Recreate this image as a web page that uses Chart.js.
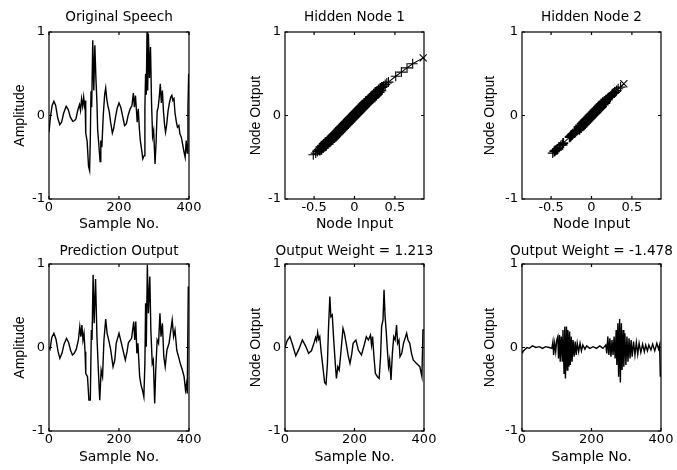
<!DOCTYPE html>
<html>
<head>
<meta charset="utf-8">
<script src="https://cdn.jsdelivr.net/npm/chart.js@4.4.1/dist/chart.umd.min.js"></script>
<style>
  body { margin: 0; background: #fff; width: 677px; height: 470px; position: relative; overflow: hidden; }
  canvas { position: absolute; }
</style>
</head>
<body>
<script>
// speech segment, 400 samples
const speechSamples = [0, 4, 9, 14, 19, 25, 31, 36, 42, 49, 55, 61, 68, 73, 77, 82, 87, 90, 93, 96, 99, 101, 103, 105, 109, 113, 116, 118, 120, 122, 125, 128, 131, 134, 137, 139, 142, 146, 148, 151, 155, 159, 162, 165, 168, 172, 176, 181, 185, 190, 195, 200, 205, 210, 216, 221, 226, 232, 237, 241, 244, 247, 250, 252, 255, 258, 261, 265, 268, 272, 274, 276, 278, 280, 282, 284, 287, 290, 293, 296, 299, 303, 306, 309, 312, 315, 318, 321, 324, 327, 330, 333, 336, 340, 344, 348, 351, 354, 357, 360, 364, 367, 371, 374, 378, 382, 385, 389, 392, 395, 397, 399];
const speechAmp = [-0.20, -0.02, 0.12, 0.17, 0.12, -0.03, -0.11, -0.08, 0.03, 0.11, 0.07, -0.02, -0.07, -0.06, -0.04, 0.06, 0.13, 0.06, 0.20, 0.11, 0.22, 0.13, 0.18, -0.21, -0.31, -0.61, -0.66, -0.28, 0.29, 0.10, 0.90, 0.30, 0.84, 0.45, 0.15, -0.17, -0.33, -0.55, -0.30, -0.38, 0.00, 0.25, 0.33, 0.20, 0.12, 0.05, -0.08, -0.21, -0.15, -0.02, 0.09, 0.15, 0.10, 0.00, -0.12, -0.10, 0.00, 0.08, 0.12, 0.27, 0.10, 0.24, 0.05, -0.08, 0.08, -0.15, -0.30, -0.42, -0.52, -0.48, 0.10, 0.50, 0.25, 1.00, 0.30, 0.98, 0.45, 0.82, 0.15, -0.25, -0.18, -0.58, -0.32, 0.05, 0.10, 0.22, 0.38, 0.15, 0.30, 0.05, -0.10, -0.20, -0.12, 0.05, 0.15, 0.22, 0.24, 0.18, 0.20, 0.03, -0.08, -0.14, -0.12, -0.22, -0.26, -0.35, -0.42, -0.50, -0.30, -0.45, 0.10, 0.50];

// network prediction
const predSamples = [0, 3, 8, 14, 20, 26, 31, 37, 43, 50, 56, 62, 67, 72, 78, 84, 88, 91, 94, 97, 100, 103, 105, 110, 114, 118, 121, 123, 126, 129, 133, 137, 141, 145, 149, 153, 157, 162, 166, 170, 176, 183, 188, 192, 200, 207, 214, 218, 223, 227, 236, 242, 245, 248, 251, 254, 259, 263, 267, 271, 274, 276, 278, 281, 284, 288, 291, 295, 298, 302, 305, 309, 313, 317, 320, 324, 328, 332, 337, 343, 352, 356, 360, 365, 370, 375, 381, 386, 390, 393, 395, 398];
const predAmp = [0.00, -0.02, 0.12, 0.17, 0.10, -0.05, -0.13, -0.07, 0.04, 0.11, 0.06, -0.04, -0.09, -0.07, -0.02, 0.09, 0.25, 0.13, 0.27, 0.09, 0.17, -0.05, -0.31, -0.35, -0.63, -0.63, 0.21, 0.09, 0.87, 0.29, 0.82, 0.13, -0.27, -0.63, -0.27, -0.35, 0.09, 0.34, 0.17, 0.10, -0.02, -0.23, -0.15, 0.05, 0.17, 0.05, -0.08, -0.15, -0.05, 0.06, 0.11, 0.31, 0.09, 0.31, -0.07, 0.05, -0.35, -0.45, -0.51, -0.59, -0.19, 0.53, 0.01, 0.99, 0.41, 0.85, 0.21, -0.19, -0.15, -0.67, -0.27, 0.09, 0.05, 0.41, 0.13, 0.29, -0.11, -0.23, -0.03, 0.05, 0.33, 0.13, 0.21, -0.03, -0.11, -0.19, -0.27, -0.35, -0.51, -0.43, -0.55, 0.73];

// hidden node 1 output over time
const h1Samples = [0, 6, 14, 22, 31, 40, 50, 59, 68, 76, 84, 88, 91, 94, 97, 100, 104, 110, 114, 118, 122, 125, 129, 132, 136, 140, 145, 148, 152, 156, 161, 167, 171, 176, 182, 187, 192, 196, 204, 211, 220, 228, 234, 240, 246, 249, 252, 256, 260, 266, 271, 275, 278, 282, 285, 288, 291, 294, 298, 301, 305, 309, 313, 317, 321, 324, 328, 331, 336, 341, 347, 350, 354, 359, 364, 369, 378, 388, 394, 397, 400];
const h1Out = [0.00, 0.08, 0.13, 0.03, -0.10, -0.02, 0.09, 0.02, -0.07, -0.04, 0.06, 0.12, 0.08, 0.18, 0.10, 0.13, -0.05, -0.27, -0.42, -0.44, -0.20, 0.21, 0.61, 0.37, 0.39, 0.10, -0.21, -0.37, -0.23, -0.27, -0.05, 0.23, 0.17, 0.05, -0.10, -0.19, -0.08, 0.05, 0.09, -0.03, -0.09, 0.03, 0.13, 0.09, 0.15, 0.03, 0.13, -0.11, -0.31, -0.35, -0.37, -0.11, 0.25, 0.33, 0.69, 0.37, 0.21, 0.01, -0.23, -0.15, -0.39, -0.07, 0.13, 0.09, 0.27, 0.05, 0.09, -0.11, -0.07, 0.05, 0.13, 0.17, 0.09, 0.05, -0.07, -0.15, -0.19, -0.23, -0.35, 0.21, 0.21];

// hidden node 2 output over time
const h2Samples = [0, 2, 7, 14, 21, 30, 40, 50, 59, 68, 78, 86, 89, 91, 94, 97, 100, 103, 105, 108, 110, 113, 116, 118, 121, 123, 125, 128, 130, 132, 135, 137, 139, 142, 144, 147, 150, 153, 156, 159, 163, 167, 171, 175, 181, 186, 195, 205, 214, 224, 233, 241, 244, 247, 250, 253, 256, 259, 262, 265, 268, 271, 273, 276, 278, 281, 283, 286, 288, 291, 293, 296, 299, 302, 305, 308, 311, 314, 317, 321, 325, 329, 333, 337, 342, 347, 352, 356, 361, 365, 371, 376, 382, 388, 393, 396, 398];
const h2Out = [-0.06, -0.05, -0.03, 0.00, -0.01, 0.02, 0.00, 0.01, -0.01, 0.01, 0.00, -0.01, 0.07, -0.09, 0.05, -0.05, 0.09, 0.13, -0.13, 0.15, -0.17, 0.13, -0.17, 0.21, -0.31, 0.25, -0.37, 0.25, -0.27, 0.21, -0.23, 0.19, -0.21, 0.13, -0.17, 0.09, -0.11, 0.07, -0.09, 0.05, -0.05, 0.05, -0.04, 0.03, -0.02, 0.02, -0.01, 0.01, -0.01, 0.02, -0.01, 0.03, -0.07, 0.13, -0.09, 0.11, -0.11, 0.09, -0.09, 0.13, -0.13, 0.21, -0.21, 0.29, -0.35, 0.34, -0.42, 0.29, -0.27, 0.21, -0.23, 0.17, -0.21, 0.13, -0.17, 0.11, -0.13, 0.09, -0.11, 0.07, -0.09, 0.06, -0.08, 0.05, -0.06, 0.04, -0.05, 0.03, -0.04, 0.03, -0.03, 0.04, -0.04, 0.05, -0.02, 0.03, -0.35];

// node input vs node output, [input, output]
const node1Pts = [
  [-0.51, -0.47], [-0.48, -0.45], [-0.46, -0.43], [-0.44, -0.41], [-0.43, -0.42], [-0.42, -0.38],
  [-0.41, -0.41], [-0.40, -0.36], [-0.39, -0.39], [-0.38, -0.34], [-0.37, -0.37], [-0.36, -0.32],
  [-0.35, -0.36], [-0.34, -0.31], [-0.33, -0.34], [-0.32, -0.29], [-0.31, -0.32], [-0.30, -0.27],
  [-0.29, -0.30], [-0.28, -0.25], [-0.27, -0.29], [-0.26, -0.23], [-0.25, -0.27], [-0.24, -0.21],
  [-0.23, -0.25], [-0.22, -0.19], [-0.21, -0.23], [-0.20, -0.17], [-0.19, -0.21], [-0.18, -0.15],
  [-0.17, -0.19], [-0.16, -0.13], [-0.15, -0.17], [-0.14, -0.11], [-0.13, -0.15], [-0.12, -0.09],
  [-0.11, -0.13], [-0.10, -0.07], [-0.09, -0.11], [-0.08, -0.05], [-0.07, -0.09], [-0.06, -0.03],
  [-0.05, -0.07], [-0.04, -0.01], [-0.03, -0.05], [-0.02, 0.01], [-0.01, -0.03], [0.00, 0.03],
  [0.01, -0.01], [0.02, 0.05], [0.03, 0.01], [0.04, 0.07], [0.05, 0.03], [0.06, 0.09],
  [0.07, 0.05], [0.08, 0.11], [0.09, 0.07], [0.10, 0.13], [0.11, 0.09], [0.12, 0.15],
  [0.13, 0.11], [0.14, 0.17], [0.15, 0.13], [0.16, 0.18], [0.17, 0.15], [0.18, 0.20],
  [0.19, 0.17], [0.20, 0.22], [0.21, 0.19], [0.22, 0.24], [0.23, 0.21], [0.24, 0.26],
  [0.25, 0.22], [0.26, 0.28], [0.27, 0.24], [0.28, 0.29], [0.29, 0.26], [0.30, 0.31],
  [0.31, 0.28], [0.32, 0.33], [0.33, 0.30], [0.34, 0.34], [0.36, 0.35], [0.38, 0.37],
  [0.40, 0.39], [0.42, 0.40], [0.51, 0.47], [0.58, 0.52], [0.65, 0.57], [0.72, 0.62], [0.85, 0.69]
];
const node2Pts = [
  [-0.48, -0.45], [-0.46, -0.43], [-0.45, -0.42], [-0.43, -0.41], [-0.42, -0.40], [-0.40, -0.38],
  [-0.38, -0.36], [-0.36, -0.35], [-0.35, -0.33],
  [-0.27, -0.26], [-0.26, -0.25], [-0.25, -0.24], [-0.24, -0.23], [-0.23, -0.22], [-0.21, -0.21],
  [-0.20, -0.19], [-0.18, -0.18],
  [-0.16, -0.14], [-0.15, -0.17], [-0.14, -0.12], [-0.13, -0.15], [-0.12, -0.10], [-0.11, -0.13],
  [-0.10, -0.08], [-0.09, -0.11], [-0.08, -0.06], [-0.07, -0.09], [-0.06, -0.04], [-0.05, -0.07],
  [-0.04, -0.02], [-0.03, -0.05], [-0.02, 0.00], [-0.01, -0.03], [0.00, 0.02], [0.01, -0.01],
  [0.02, 0.04], [0.03, 0.01], [0.04, 0.06], [0.05, 0.03], [0.06, 0.08], [0.07, 0.05],
  [0.08, 0.10], [0.09, 0.07], [0.10, 0.12], [0.11, 0.09], [0.12, 0.14], [0.13, 0.11],
  [0.14, 0.16], [0.15, 0.13], [0.16, 0.17], [0.17, 0.15], [0.18, 0.19],
  [0.20, 0.20], [0.22, 0.22], [0.23, 0.22], [0.25, 0.24], [0.26, 0.26], [0.28, 0.27],
  [0.29, 0.28], [0.31, 0.30], [0.33, 0.32], [0.36, 0.34], [0.40, 0.38]
];

const sampleTicks = [0, 200, 400];
const inputTicks = [-0.5, 0, 0.5];
const valueTicks = [-1, 0, 1];

const sans = 'DejaVu Sans';

// subplot grid: canvas cells and the plot box inside each
const cols = [
  { left: 0, width: 225, plotL: 49, plotR: 189, yTitleX: 20.5 },
  { left: 225, width: 235, plotL: 285, plotR: 424, yTitleX: 256.5 },
  { left: 460, width: 217, plotL: 522, plotR: 661, yTitleX: 490.5 }
];
const rows = [
  { top: 0, height: 235, plotT: 32, plotB: 199, titleY: 17.5, xTitleY: 224 },
  { top: 235, height: 235, plotT: 264, plotB: 431, titleY: 251, xTitleY: 457.5 }
];

// box around the axes with inward tick marks on all four sides
const boxFrame = {
  id: 'boxFrame',
  afterDraw(chart) {
    const { ctx, chartArea: a, scales: { x, y } } = chart;
    const len = 3;
    ctx.save();
    ctx.strokeStyle = '#000';
    ctx.lineWidth = 1.2;
    ctx.strokeRect(a.left, a.top, a.right - a.left, a.bottom - a.top);
    ctx.beginPath();
    x.ticks.forEach(t => {
      const px = x.getPixelForValue(t.value);
      ctx.moveTo(px, a.bottom); ctx.lineTo(px, a.bottom - len);
      ctx.moveTo(px, a.top); ctx.lineTo(px, a.top + len);
    });
    y.ticks.forEach(t => {
      const py = y.getPixelForValue(t.value);
      ctx.moveTo(a.left, py); ctx.lineTo(a.left + len, py);
      ctx.moveTo(a.right, py); ctx.lineTo(a.right - len, py);
    });
    ctx.stroke();
    ctx.restore();
  }
};

// title centred over the plot box, allowed to run wider than it
const panelTitle = {
  id: 'panelTitle',
  afterDraw(chart, args, opts) {
    const { ctx, chartArea: a } = chart;
    ctx.save();
    ctx.fillStyle = '#000';
    ctx.font = '13.6px "' + sans + '"';
    ctx.textAlign = 'center';
    ctx.textBaseline = 'middle';
    ctx.fillText(opts.text, (a.left + a.right) / 2, opts.y);
    ctx.restore();
  }
};

function points(xs, ys) {
  return xs.map((v, i) => ({ x: v, y: ys[i] }));
}

function trace(xs, ys) {
  return { data: points(xs, ys), borderColor: '#000', borderWidth: 1.4, pointRadius: 0, tension: 0, fill: false };
}

// '+' markers joined in input order; the packed middle of the cloud gets heavier strokes
function crosses(pts) {
  const last = pts.length - 1;
  return {
    data: pts.map(p => ({ x: p[0], y: p[1] })),
    borderColor: '#000', borderWidth: 1.1,
    pointStyle: pts.map((p, i) => i === last ? 'crossRot' : 'cross'),
    pointRadius: 5,
    pointBorderColor: '#000',
    pointBorderWidth: pts.map((p, i) => {
      const gap = Math.min(i > 0 ? p[0] - pts[i - 1][0] : 1, i < last ? pts[i + 1][0] - p[0] : 1);
      return gap < 0.015 ? 1.8 : 1.1;
    }),
    clip: false
  };
}

function panel(r, c, title, yTitle, xTitle, xMin, xMax, xTicks, dataset) {
  const row = rows[r], col = cols[c];
  const canvas = document.createElement('canvas');
  canvas.width = col.width;
  canvas.height = row.height;
  canvas.style.left = col.left + 'px';
  canvas.style.top = row.top + 'px';
  document.body.appendChild(canvas);

  const tickFont = { family: sans, size: 13 };

  return new Chart(canvas, {
    type: 'line',
    data: { datasets: [dataset] },
    plugins: [boxFrame, panelTitle],
    options: {
      responsive: false,
      animation: false,
      events: [],
      layout: { padding: { left: 0, top: row.plotT - row.top, bottom: 0, right: col.left + col.width - col.plotR } },
      plugins: {
        legend: { display: false },
        tooltip: { enabled: false },
        panelTitle: { text: title, y: row.titleY - row.top }
      },
      scales: {
        x: {
          type: 'linear', min: xMin, max: xMax,
          afterBuildTicks: s => { s.ticks = xTicks.map(v => ({ value: v })); },
          afterFit: s => { s.height = row.top + row.height - row.plotB; },
          grid: { display: false, drawTicks: false },
          border: { display: false },
          ticks: { color: '#000', padding: 1, font: tickFont, maxRotation: 0, autoSkip: false, callback: v => String(v) },
          title: {
            display: true, text: xTitle, color: '#000',
            font: { family: sans, size: 14 },
            padding: { top: 0, bottom: row.top + row.height - row.xTitleY - 8.4 }
          }
        },
        y: {
          type: 'linear', min: -1, max: 1,
          afterBuildTicks: s => { s.ticks = valueTicks.map(v => ({ value: v })); },
          afterFit: s => { s.width = col.plotL - col.left; },
          grid: { display: false, drawTicks: false },
          border: { display: false },
          ticks: { color: '#000', padding: 4, font: tickFont, autoSkip: false, callback: v => String(v) },
          title: {
            display: true, text: yTitle, color: '#000',
            font: { family: 'Liberation Sans', size: 14 },
            padding: { top: col.yTitleX - col.left - 8.4, bottom: 0 }
          }
        }
      }
    }
  });
}

panel(0, 0, 'Original Speech', 'Amplitude', 'Sample No.', 0, 400, sampleTicks, trace(speechSamples, speechAmp));
panel(0, 1, 'Hidden Node 1', 'Node Output', 'Node Input', -0.86, 0.86, inputTicks, crosses(node1Pts));
panel(0, 2, 'Hidden Node 2', 'Node Output', 'Node Input', -0.86, 0.86, inputTicks, crosses(node2Pts));
panel(1, 0, 'Prediction Output', 'Amplitude', 'Sample No.', 0, 400, sampleTicks, trace(predSamples, predAmp));
panel(1, 1, 'Output Weight = 1.213', 'Node Output', 'Sample No.', 0, 400, sampleTicks, trace(h1Samples, h1Out));
panel(1, 2, 'Output Weight = -1.478', 'Node Output', 'Sample No.', 0, 400, sampleTicks, trace(h2Samples, h2Out));
</script>
</body>
</html>
